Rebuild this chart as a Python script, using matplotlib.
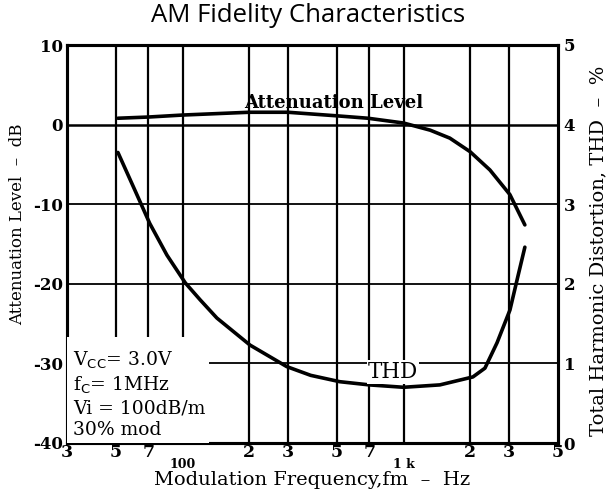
import matplotlib
matplotlib.use("Agg")
import matplotlib.pyplot as plt
from matplotlib.ticker import FixedLocator
from matplotlib.patches import Rectangle

# ---- data ----
att_freq = [51, 70, 100, 200, 300, 500, 690, 1000, 1320, 1620, 2000, 2460, 3030, 3540]
att_db = [0.8, 0.95, 1.2, 1.55, 1.55, 1.1, 0.8, 0.2, -0.7, -1.7, -3.4, -5.7, -8.8, -12.6]

thd_freq = [51, 61, 71, 85, 103, 120, 143, 202, 296, 380, 515, 700, 1000,
            1460, 2060, 2335, 2650, 3030, 3290, 3540]
thd_pct = [3.65, 3.17, 2.76, 2.36, 2.01, 1.80, 1.57, 1.23, 0.96, 0.85,
           0.77, 0.73, 0.70, 0.73, 0.83, 0.94, 1.26, 1.67, 2.09, 2.46]

grid_freqs = [50, 70, 100, 200, 300, 500, 700, 1000, 2000, 3000]
minor_ticks = [30, 50, 70, 200, 300, 500, 700, 2000, 3000, 5000]
minor_labels = ["3", "5", "7", "2", "3", "5", "7", "2", "3", "5"]
major_ticks = [100, 1000]
major_labels = ["100", "1 k"]
left_ticks = [10, 0, -10, -20, -30, -40]
right_ticks = [5, 4, 3, 2, 1, 0]
cond_text = "V$_{\\mathrm{CC}}$= 3.0V\nf$_{\\mathrm{C}}$= 1MHz\nVi = 100dB/m\n30% mod"

serif = "DejaVu Serif"

fig = plt.figure(figsize=(6.08, 4.95), dpi=100)
ax = fig.add_axes([67/608, (495-443)/495, 491/608, 398/495])
ax.set_xscale("log")
ax.set_xlim(30, 5000)
ax.set_ylim(-40, 10)

# grid
for f in grid_freqs:
    ax.axvline(f, color="black", lw=1.6, zorder=1)
for y in [-30, -20, -10]:
    ax.axhline(y, color="black", lw=1.3, zorder=1)
ax.axhline(0, color="black", lw=1.8, zorder=1)

for s in ax.spines.values():
    s.set_linewidth(2.2)

ax.plot(att_freq, att_db, color="black", lw=2.6, zorder=3,
        solid_joinstyle="round", solid_capstyle="round")

ax2 = ax.twinx()
ax2.set_ylim(0, 5)
ax2.plot(thd_freq, thd_pct, color="black", lw=2.6, zorder=3,
         solid_joinstyle="round", solid_capstyle="round")
for s in ax2.spines.values():
    s.set_linewidth(2.2)

# ticks
ax.xaxis.set_major_locator(FixedLocator(major_ticks))
ax.set_xticklabels(major_labels)
ax.set_xticks(minor_ticks, minor_labels, minor=True)
ax.tick_params(axis="x", which="major", length=0, pad=11, labelsize=9)
ax.tick_params(axis="x", which="minor", length=0, pad=1, labelsize=12.5)
for lab in ax.get_xticklabels(which="both"):
    lab.set_fontfamily(serif)
    lab.set_fontweight("bold")

ax.set_yticks(left_ticks)
ax.set_yticklabels([str(v) for v in left_ticks], fontfamily=serif, fontweight="bold", fontsize=12)
ax.tick_params(axis="y", length=0, pad=3)
ax2.set_yticks(right_ticks)
ax2.set_yticklabels([str(v) for v in right_ticks], fontfamily=serif, fontweight="bold", fontsize=12)
ax2.tick_params(axis="y", length=0, pad=4)

ax.set_xlabel("Modulation Frequency,fm  \u2013  Hz", fontfamily=serif, fontsize=14)
ax.xaxis.set_label_coords(0.5, -(485 - 443) / 398)
ax.xaxis.label.set_verticalalignment("baseline")
ax.set_ylabel("Attenuation Level  \u2013  dB", fontfamily=serif, fontsize=12)
ax.yaxis.set_label_coords((26 - 67) / 491, (443 - 224) / 398)
ax2.set_ylabel("Total Harmonic Distortion, THD  \u2013  %", fontfamily=serif, fontsize=14)
ax2.yaxis.set_label_coords((589 - 67) / 491, (443 - 251) / 398)

fig.text(308/608, 1 - 15/495, "AM Fidelity Characteristics", family="Open Sans",
         fontsize=18.5, ha="center", va="center")

# annotations
ax.text(485, 2.7, "Attenuation Level", fontfamily=serif, fontweight="bold",
        fontsize=13, ha="center", va="center", zorder=4)
ax2.text(896, 0.89, "THD", fontfamily=serif, fontsize=15.5,
         ha="center", va="center", zorder=5,
         bbox=dict(facecolor="white", edgecolor="none", pad=1))

# condition box (white, covering grid)
ax2.add_patch(Rectangle((0, 0), 0.29, 0.266, transform=ax.transAxes,
                        facecolor="white", edgecolor="none", zorder=4))
ax2.text(0.012, 0.01, cond_text, transform=ax.transAxes, fontfamily=serif,
         fontsize=13.5, ha="left", va="bottom", linespacing=1.25, zorder=5)

fig.savefig("out.png", dpi=100)
